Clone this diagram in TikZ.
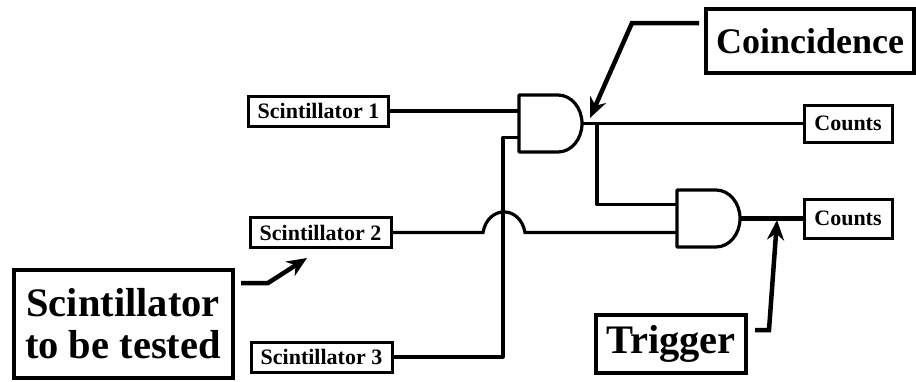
\documentclass[tikz,border=0pt]{standalone}
\usepackage{fontspec}
\setmainfont{Liberation Serif}
\usepackage{tikz}
\usetikzlibrary{positioning,arrows.meta,calc}
\tikzset{
  x=1pt,y=-1pt,
  detbox/.style={draw=black,line width=3pt,inner sep=0pt,minimum height=30pt,
    font=\fontsize{22}{24}\selectfont\bfseries},
  lblbox/.style={draw=black,line width=4pt,inner sep=0pt,align=center,
    font=\fontsize{40.5}{43}\selectfont\bfseries},
  andg/.style={minimum width=63pt,minimum height=57pt,inner sep=0pt,outer sep=0pt},
  gateline/.style={line width=3.2pt,line join=round},
  wire/.style={line width=3.2pt},
  callout/.style={-{Stealth[length=20pt,width=17pt]},line width=4.5pt},
}
\begin{document}
\begin{tikzpicture}
  \useasboundingbox (0,0) rectangle (916,381);
  % detectors
  \node[detbox,minimum width=140pt] (s1) at (318.5,111) {Scintillator 1};
  \node[detbox,minimum width=141pt] (s2) at (320.5,232.5) {Scintillator 2};
  \node[detbox,minimum width=141pt] (s3) at (321.5,357) {Scintillator 3};
  % gates
  \node[andg] (g1) at (550.5,123.5) {};
  \node[andg] (g2) at (708.5,218.5) {};
  \foreach \g in {g1,g2}
    \draw[gateline] (\g.north west) -- ++(39,0)
      arc[start angle=90,end angle=-90,x radius=24pt,y radius=28.5pt]
      -- (\g.south west) -- cycle;
  % outputs
  \node[detbox,minimum width=88pt,minimum height=37pt] (c1) at (848,123.5) {Counts};
  \node[detbox,minimum width=88pt,minimum height=39pt] (c2) at (848,218.5) {Counts};
  % labels
  \node[lblbox,minimum width=208pt,minimum height=64pt,font=\fontsize{36}{40}\selectfont\bfseries]
    (coin) at (810,41) {Coincidence};
  \node[lblbox,minimum width=219pt,minimum height=108pt] (test) at (123,323.5) {Scintillator\\[-1pt]to be tested};
  \node[lblbox,minimum width=150pt,minimum height=58pt] (trig) at (671,344) {Trigger};
  % wiring
  \coordinate (g1b) at ($(g1.west)+(0,14)$);
  \coordinate (g2a) at ($(g2.west)+(0,-14)$);
  \coordinate (g2b) at ($(g2.west)+(0,14)$);
  \coordinate (hopl) at (483,232.5);
  \coordinate (hopr) at (525,232.5);
  \coordinate (up) at (503,357);
  \coordinate (br) at (597,123.5);
  \draw[wire] (s1.east) -- (s1.east -| g1.west);
  \draw[wire] (s2.east) -- (hopl) to[out=80,in=100,looseness=1.7] (hopr) -- (g2b);
  \draw[wire,line join=round] (s3.east) -- (up) |- (g1b);
  \draw[wire] (g1.east) -- (c1.west);
  \draw[wire,line join=round] (br) |- (g2a);
  \draw[wire,line width=4.5pt] (g2.east) -- (c2.west);
  % callouts
  \coordinate (ca) at (699,23);
  \coordinate (cb) at (632,23);
  \coordinate (cc) at (590,118);
  \coordinate (ta) at (241,283);
  \coordinate (tb) at (268,283);
  \coordinate (tc) at (307,258);
  \coordinate (ra) at (755,330);
  \coordinate (rb) at (769,330);
  \coordinate (rc) at (777,220);
  \draw[callout] (ca) -- (cb) -- (cc);
  \draw[callout] (ta) -- (tb) -- (tc);
  \draw[callout] (ra) -- (rb) -- (rc);
\end{tikzpicture}
\end{document}
